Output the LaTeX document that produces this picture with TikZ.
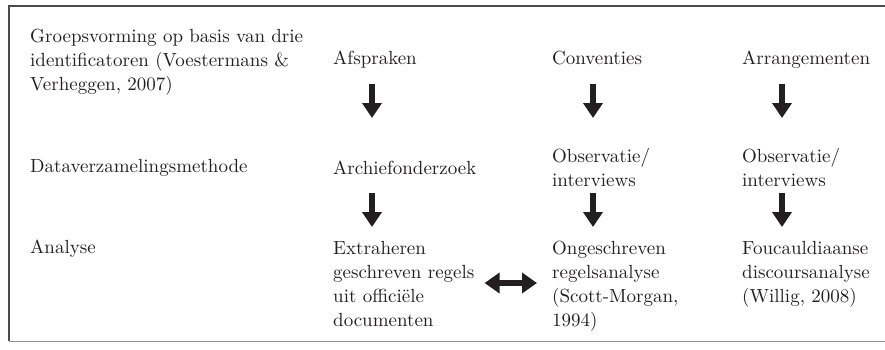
\documentclass[tikz,border=0pt]{standalone}
\usepackage{fontspec}
\setmainfont{lmroman10-regular.otf}
\usepackage{tikz}
\usetikzlibrary{arrows.meta,positioning}
\usepackage{xcolor}

\definecolor{inkc}{RGB}{35,31,32}
\definecolor{framedark}{RGB}{75,75,75}
\definecolor{framelight}{RGB}{150,150,150}

\tikzset{
    lbl/.style={anchor=base west, inner sep=0pt, align=left, text=inkc, font=\fontsize{19}{24}\selectfont},
    blockarrow/.style={draw=inkc, line width=6pt, -{Triangle[width=19pt,length=15pt]}},
    dblarrow/.style={draw=inkc, line width=6pt, {Triangle[width=20pt,length=15pt]}-{Triangle[width=20pt,length=15pt]}}
}

\begin{document}
\begin{tikzpicture}[x=1pt,y=-1pt]
    \useasboundingbox (0,0) rectangle (885,349);
    \draw[framedark, line width=1.5pt] (885,6) -- (9,6) -- (9,341);
    \draw[framelight, line width=1pt] (9,341) -- (885,341);

    % row labels (multi-line nodes sit on their last baseline)
    \node[lbl] (groeps) at (30,90) {Groepsvorming op basis van drie\\identificatoren (Voestermans \&\\Verheggen, 2007)};
    \node[lbl] (dataverz) at (30,172) {Dataverzamelingsmethode};
    \node[lbl] (analyse) at (30,253) {Analyse};

    \node[lbl] (afspraken) at (333,64) {Afspraken};
    \node[lbl] (conventies) at (552,64) {Conventies};
    \node[lbl] (arrangementen) at (742,64) {Arrangementen};

    \node[lbl] (archief) at (333,174) {Archiefonderzoek};
    \node[lbl] (obsa) at (552,186) {Observatie/\\interviews};
    \node[lbl] (obsb) at (742,186) {Observatie/\\interviews};

    \node[lbl] (extraheren) at (333,326) {Extraheren\\geschreven regels\\uit offici\"ele\\documenten};
    \node[lbl] (ongeschreven) at (552,326) {Ongeschreven\\regelsanalyse\\(Scott-Morgan,\\1994)};
    \node[lbl] (foucauld) at (742,302) {Foucauldiaanse\\discoursanalyse\\(Willig, 2008)};

    % arrow columns
    \coordinate (ka) at (372,0);
    \coordinate (kb) at (593,0);
    \coordinate (kc) at (782,0);
    \coordinate (mid) at (0,283);

    \draw[blockarrow, shorten <=20pt, shorten >=56pt] (ka |- afspraken.base) -- (ka |- archief.base);
    \draw[blockarrow, shorten <=20pt, shorten >=68pt] (kb |- conventies.base) -- (kb |- obsa.base);
    \draw[blockarrow, shorten <=20pt, shorten >=68pt] (kc |- arrangementen.base) -- (kc |- obsb.base);

    \draw[blockarrow, shorten <=19pt, shorten >=99pt] (ka |- archief.base) -- (ka |- extraheren.base);
    \draw[blockarrow, shorten <=7pt, shorten >=99pt] (kb |- obsa.base) -- (kb |- ongeschreven.base);
    \draw[blockarrow, shorten <=7pt, shorten >=75pt] (kc |- obsb.base) -- (kc |- foucauld.base);

    \draw[dblarrow, shorten <=10pt, shorten >=15pt] (extraheren.east |- mid) -- (ongeschreven.west |- mid);
\end{tikzpicture}
\end{document}
